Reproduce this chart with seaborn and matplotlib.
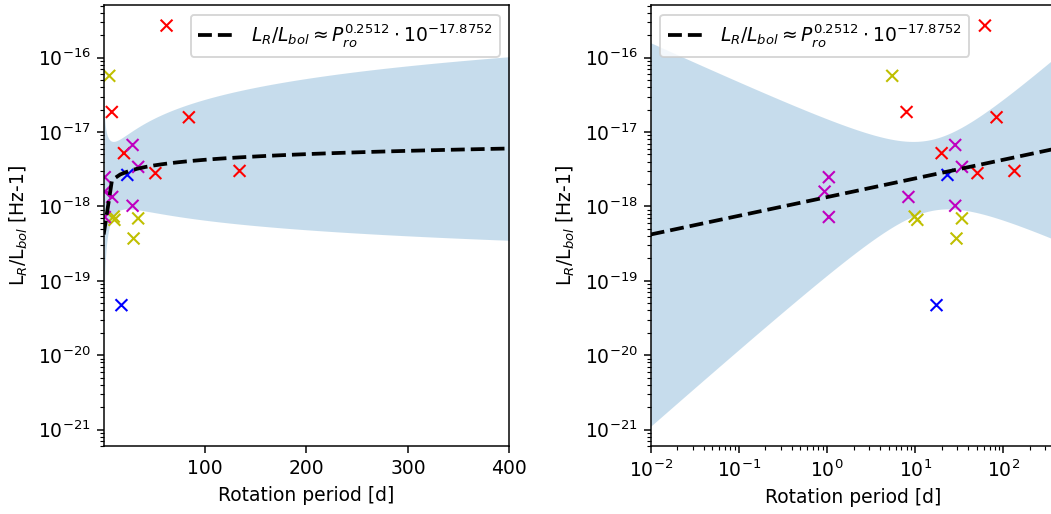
import numpy as np
import pandas as pd
import matplotlib
matplotlib.use("Agg")
import matplotlib.pyplot as plt
from matplotlib.ticker import LogLocator, NullFormatter
import seaborn as sns

# Rotation period [d] and radio-to-bolometric luminosity ratio [Hz-1], per sample group
red_period = [62.0, 8.0, 84.0, 20.0, 51.0, 134.0]
red_ratio = [2.7e-16, 1.86e-17, 1.58e-17, 5.2e-18, 2.8e-18, 3.0e-18]

yellow_period = [5.5, 9.9, 10.6, 29.5, 34.0]
yellow_ratio = [5.7e-17, 7.3e-19, 6.6e-19, 3.7e-19, 6.9e-19]

magenta_period = [1.05, 0.94, 1.05, 8.4, 28.5, 34.0, 28.5]
magenta_ratio = [2.47e-18, 1.58e-18, 7.2e-19, 1.34e-18, 6.7e-18, 3.4e-18, 1.02e-18]

blue_period = [23.3, 17.5]
blue_ratio = [2.65e-18, 4.7e-20]

group_colors = {"r": "r", "y": "y", "m": "m", "b": "b"}

# Power-law fit in log-log space
fit_slope = 0.2512
fit_log_norm = -17.8752
conf_z = 2.576  # 99% confidence band on the fitted relation

df = pd.DataFrame({
    "period": red_period + yellow_period + magenta_period + blue_period,
    "ratio": red_ratio + yellow_ratio + magenta_ratio + blue_ratio,
    "group": (["r"] * len(red_period) + ["y"] * len(yellow_period)
              + ["m"] * len(magenta_period) + ["b"] * len(blue_period)),
})


def fit_log(logp):
    return fit_slope * logp + fit_log_norm


# Confidence band of the regression from the scatter of the data about the fit
logp = np.log10(df["period"].to_numpy())
logr = np.log10(df["ratio"].to_numpy())
n = len(logp)
resid = logr - fit_log(logp)
s = np.sqrt(np.sum(resid ** 2) / (n - 2))
mean_lp = logp.mean()
sxx = np.sum((logp - mean_lp) ** 2)

band_p = np.logspace(-2, np.log10(400), 400)
band_lp = np.log10(band_p)
half = conf_z * s * np.sqrt(1.0 / n + (band_lp - mean_lp) ** 2 / sxx)
band_lo = 10 ** (fit_log(band_lp) - half)
band_hi = 10 ** (fit_log(band_lp) + half)

label = r"$L_R/L_{bol} \approx P_{ro}^{0.2512} \cdot 10^{-17.8752}$"

W, H, DPI = 1051, 514, 135
fig = plt.figure(figsize=(W / DPI, H / DPI), dpi=DPI)
ax1 = fig.add_axes([103.7 / W, 68 / H, 405.6 / W, 440.7 / H])
ax2 = fig.add_axes([650.7 / W, 68 / H, 405.6 / W, 440.7 / H])

panels = [
    (ax1, np.linspace(0.01, 400, 50), "linear", "upper right"),
    (ax2, np.logspace(-2, np.log10(400), 50), "log", "upper left"),
]

for ax, line_p, xscale, loc in panels:
    ax.set_yscale("log")
    ax.set_xscale(xscale)
    ax.fill_between(band_p, band_lo, band_hi, color="C0", alpha=0.25, lw=0, zorder=1)
    sns.scatterplot(data=df, x="period", y="ratio", hue="group", palette=group_colors,
                    marker="x", s=40, linewidth=1.1, legend=False, ax=ax, zorder=2)
    sns.lineplot(x=line_p, y=10 ** fit_log(np.log10(line_p)), color="k",
                 linestyle="--", dashes=(3.0, 1.2), linewidth=2, label=label,
                 ax=ax, zorder=3, sort=False)
    ax.set_xlim(0.01, 400)
    ax.set_ylim(6e-22, 5.06e-16)
    ax.yaxis.set_major_locator(LogLocator(base=10, numticks=20))
    ax.yaxis.set_minor_locator(LogLocator(base=10, subs=np.arange(2, 10), numticks=100))
    ax.yaxis.set_minor_formatter(NullFormatter())
    ax.set_xlabel("Rotation period [d]")
    ax.set_ylabel(r"L$_R$/L$_{bol}$ [Hz-1]")
    ax.legend(loc=loc)

ax1.set_xticks([100, 200, 300, 400])
ax2.xaxis.set_minor_locator(LogLocator(base=10, subs=np.arange(2, 10), numticks=100))
ax2.xaxis.set_minor_formatter(NullFormatter())

fig.savefig("out.png", dpi=DPI)
